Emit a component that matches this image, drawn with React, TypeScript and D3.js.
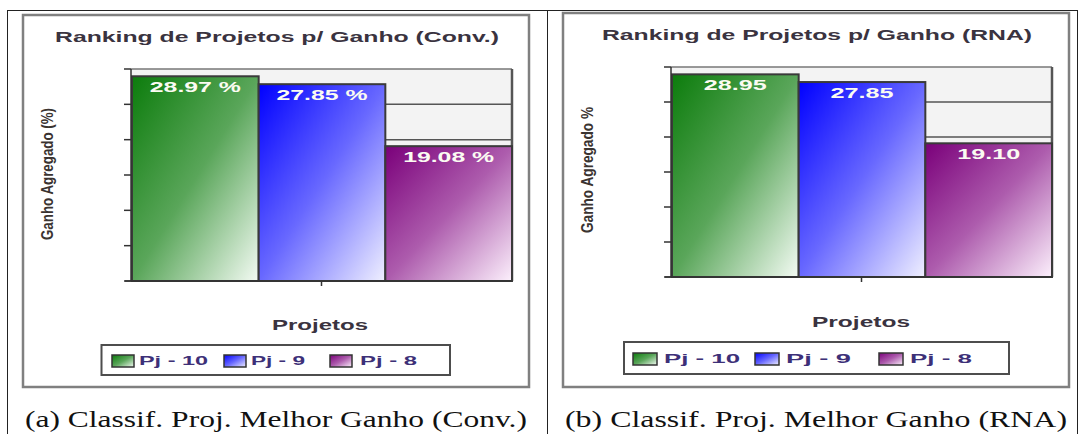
import React from "react";
import * as d3 from "d3";

const categories = ["Pj - 10", "Pj - 9", "Pj - 8"];
const convValues = [28.97, 27.85, 19.08];
const rnaValues = [28.95, 27.85, 19.1];
const convLabels = ["28.97 %", "27.85 %", "19.08 %"];
const rnaLabels = ["28.95", "27.85", "19.10"];
const yTicks = [0, 5, 10, 15, 20, 25, 30];
const yDomain = [0, 30];
const titles = ["Ranking de Projetos p/ Ganho (Conv.)", "Ranking de Projetos p/ Ganho (RNA)"];
const yAxisTitles = ["Ganho Agregado (%)", "Ganho Agregado %"];
const xAxisTitle = "Projetos";
const captions = ["(a) Classif. Proj. Melhor Ganho (Conv.)", "(b) Classif. Proj. Melhor Ganho (RNA)"];

const gradStops = [
  ["#0c7c0c", "#5aa65a", "#f4fbf4"],
  ["#0000ff", "#6868ff", "#f0f0ff"],
  ["#7a007a", "#ad5cad", "#fcf0fc"],
];

const SANS = "'Liberation Sans', Arial, sans-serif";
const SERIF = "'Liberation Serif', 'Times New Roman', serif";
const DARK = "#3a3340";

type Layout = {
  id: string;
  frame: [number, number, number, number];
  plot: { x0: number; x1: number; y0: number; y1: number };
  title: { cx: number; y: number; w: number };
  ylab: { x: number; cy: number; w: number };
  xlab: { cx: number; y: number; w: number };
  legend: { box: [number, number, number, number]; sx: number[]; sw: number; sy: number; sh: number; tx: number[]; tw: number[]; ty: number };
  labelW: number;
  caption: { cx: number; y: number; w: number };
};

const layouts: Layout[] = [
  {
    id: "a",
    frame: [23, 15, 529, 387],
    plot: { x0: 131, x1: 512, y0: 69, y1: 281 },
    title: { cx: 277, y: 42, w: 444 },
    ylab: { x: 53, cy: 174, w: 132 },
    xlab: { cx: 320, y: 330, w: 96 },
    legend: { box: [101.5, 345, 450, 375], sx: [112, 224, 330], sw: 22, sy: 355, sh: 12, tx: [139, 251, 360], tw: [69, 54, 57], ty: 365 },
    labelW: 91,
    caption: { cx: 276, y: 427, w: 502 },
  },
  {
    id: "b",
    frame: [563, 13, 1069, 387],
    plot: { x0: 671, x1: 1052, y0: 67, y1: 277 },
    title: { cx: 817, y: 40, w: 430 },
    ylab: { x: 593, cy: 170, w: 126 },
    xlab: { cx: 861, y: 327, w: 98 },
    legend: { box: [624, 342, 1009, 374], sx: [633, 755, 879], sw: 24, sy: 353, sh: 12, tx: [664, 786, 910], tw: [76, 65, 62], ty: 363 },
    labelW: 63,
    caption: { cx: 816, y: 427, w: 502 },
  },
];

function Panel({ L, values, labels, idx }: { L: Layout; values: number[]; labels: string[]; idx: number }) {
  const x = d3.scaleBand<string>().domain(categories).range([L.plot.x0 + 1, L.plot.x1]).padding(0);
  const y = d3.scaleLinear().domain(yDomain).range([L.plot.y1, L.plot.y0]);
  const [fx0, fy0, fx1, fy1] = L.frame;
  const [lx0, ly0, lx1, ly1] = L.legend.box;
  const midX = (L.plot.x0 + L.plot.x1) / 2;
  return (
    <g>
      <defs>
        {categories.map((c, i) => (
          <linearGradient key={c} id={`g${L.id}${i}`} x1="0" y1="0" x2="1" y2="1">
            <stop offset="0" stopColor={gradStops[i][0]} />
            <stop offset="0.5" stopColor={gradStops[i][1]} />
            <stop offset="1" stopColor={gradStops[i][2]} />
          </linearGradient>
        ))}
      </defs>
      <rect x={fx0} y={fy0} width={fx1 - fx0} height={fy1 - fy0} fill="#fff" stroke="#808080" strokeWidth={2.5} />
      <text x={L.title.cx} y={L.title.y} textAnchor="middle" fontFamily={SANS} fontWeight="bold" fontSize={15} fill={DARK}
        textLength={L.title.w} lengthAdjust="spacingAndGlyphs">{titles[idx]}</text>
      <rect x={L.plot.x0} y={L.plot.y0} width={L.plot.x1 - L.plot.x0} height={L.plot.y1 - L.plot.y0} fill="#f3f3f3" />
      {yTicks.slice(1).map((t) => (
        <line key={t} x1={L.plot.x0} x2={L.plot.x1} y1={y(t)} y2={y(t)} stroke={t === 30 ? "#777" : "#555"} strokeWidth={1.5} />
      ))}
      <line x1={L.plot.x1} x2={L.plot.x1} y1={L.plot.y0} y2={L.plot.y1} stroke="#555" strokeWidth={2.5} />
      {categories.map((c, i) => (
        <rect key={c} x={x(c)} y={y(values[i])} width={x.bandwidth()} height={y(0) - y(values[i])}
          fill={`url(#g${L.id}${i})`} stroke="#3a3a3a" strokeWidth={2} />
      ))}
      {categories.map((c, i) => (
        <text key={c} x={(x(c) as number) + x.bandwidth() / 2} y={y(values[i]) + 16} textAnchor="middle"
          fontFamily={SANS} fontWeight="bold" fontSize={14} fill="#fbfbf2"
          textLength={L.labelW} lengthAdjust="spacingAndGlyphs">{labels[i]}</text>
      ))}
      <line x1={L.plot.x0} x2={L.plot.x0} y1={L.plot.y0} y2={L.plot.y1} stroke="#333" strokeWidth={1.5} />
      <line x1={L.plot.x0 - 6} x2={L.plot.x1} y1={L.plot.y1} y2={L.plot.y1} stroke="#333" strokeWidth={1.5} />
      {yTicks.map((t) => (
        <line key={t} x1={L.plot.x0 - 7} x2={L.plot.x0} y1={y(t)} y2={y(t)} stroke="#333" strokeWidth={1.5} />
      ))}
      <line x1={midX} x2={midX} y1={L.plot.y1} y2={L.plot.y1 + 5} stroke="#333" strokeWidth={1.5} />
      <text transform={`translate(${L.ylab.x},${L.ylab.cy}) rotate(-90)`} textAnchor="middle" fontFamily={SANS}
        fontWeight="bold" fontSize={16} fill="#3a3330" textLength={L.ylab.w} lengthAdjust="spacingAndGlyphs">{yAxisTitles[idx]}</text>
      <text x={L.xlab.cx} y={L.xlab.y} textAnchor="middle" fontFamily={SANS} fontWeight="bold" fontSize={15} fill={DARK}
        textLength={L.xlab.w} lengthAdjust="spacingAndGlyphs">{xAxisTitle}</text>
      <rect x={lx0} y={ly0} width={lx1 - lx0} height={ly1 - ly0} fill="#fff" stroke="#4d4d4d" strokeWidth={2} />
      {categories.map((c, i) => (
        <g key={c}>
          <rect x={L.legend.sx[i]} y={L.legend.sy} width={L.legend.sw} height={L.legend.sh} fill={`url(#g${L.id}${i})`}
            stroke="#333" strokeWidth={1.5} />
          <text x={L.legend.tx[i]} y={L.legend.ty} fontFamily={SANS} fontWeight="bold" fontSize={13} fill="#3d3078"
            textLength={L.legend.tw[i]} lengthAdjust="spacingAndGlyphs">{c}</text>
        </g>
      ))}
      <text x={L.caption.cx} y={L.caption.y} textAnchor="middle" fontFamily={SERIF} fontSize={24} fill="#111"
        textLength={L.caption.w} lengthAdjust="spacingAndGlyphs">{captions[idx]}</text>
    </g>
  );
}

export default function App() {
  return (
    <svg width={1079} height={434} style={{ position: "absolute", left: 0, top: 0, background: "#fff" }}>
      <rect x={0} y={0} width={1079} height={434} fill="#fff" />
      <line x1={7} x2={1078} y1={10.5} y2={10.5} stroke="#222" strokeWidth={1} />
      <line x1={7.5} x2={7.5} y1={10} y2={434} stroke="#222" strokeWidth={1} />
      <line x1={547.5} x2={547.5} y1={10} y2={434} stroke="#222" strokeWidth={1} />
      <line x1={1077.5} x2={1077.5} y1={10} y2={434} stroke="#222" strokeWidth={1} />
      <Panel L={layouts[0]} values={convValues} labels={convLabels} idx={0} />
      <Panel L={layouts[1]} values={rnaValues} labels={rnaLabels} idx={1} />
    </svg>
  );
}
